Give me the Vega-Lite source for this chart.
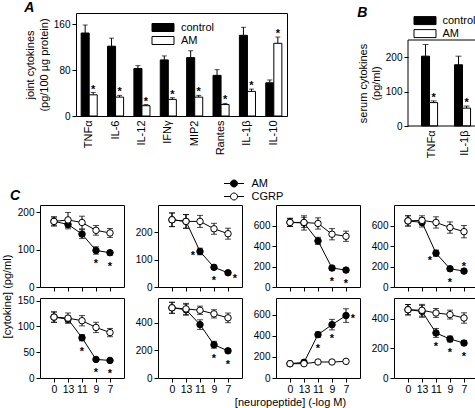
{
  "$schema": "https://vega.github.io/schema/vega-lite/v6.json",
  "padding": 0,
  "background": "white",
  "config": {
    "font": "Liberation Sans",
    "view": {"stroke": "black", "strokeWidth": 1},
    "axis": {"domain": false, "grid": false, "labelColor": "black", "titleColor": "black", "tickColor": "black", "labelFontSize": 10, "titleFontSize": 11, "titleFontWeight": "normal", "tickSize": 4, "labelPadding": 2, "titlePadding": 4},
    "legend": {"labelFontSize": 11, "labelColor": "black", "padding": 0},
    "title": {"fontSize": 14, "fontWeight": "bold", "fontStyle": "italic", "anchor": "start", "frame": "bounds", "color": "black", "offset": 0}
  },
  "datasets": {
    "A": [
      {"cytokine": "TNFα", "group": "control", "value": 145, "top": 159, "sig": false},
      {"cytokine": "TNFα", "group": "AM", "value": 37, "top": 41, "sig": true},
      {"cytokine": "IL-6", "group": "control", "value": 122, "top": 136, "sig": false},
      {"cytokine": "IL-6", "group": "AM", "value": 33, "top": 36, "sig": true},
      {"cytokine": "IL-12", "group": "control", "value": 83, "top": 88, "sig": false},
      {"cytokine": "IL-12", "group": "AM", "value": 18, "top": 20, "sig": true},
      {"cytokine": "IFNγ", "group": "control", "value": 98, "top": 105, "sig": false},
      {"cytokine": "IFNγ", "group": "AM", "value": 29, "top": 32, "sig": true},
      {"cytokine": "MIP2", "group": "control", "value": 102, "top": 114, "sig": false},
      {"cytokine": "MIP2", "group": "AM", "value": 33, "top": 36, "sig": true},
      {"cytokine": "Rantes", "group": "control", "value": 71, "top": 81, "sig": false},
      {"cytokine": "Rantes", "group": "AM", "value": 20, "top": 22, "sig": true},
      {"cytokine": "IL-1β", "group": "control", "value": 141, "top": 155, "sig": false},
      {"cytokine": "IL-1β", "group": "AM", "value": 43, "top": 47, "sig": true},
      {"cytokine": "IL-10", "group": "control", "value": 58, "top": 63, "sig": false},
      {"cytokine": "IL-10", "group": "AM", "value": 127, "top": 138, "sig": true}
    ],
    "B": [
      {"cytokine": "TNFα", "group": "control", "value": 203, "top": 237, "sig": false},
      {"cytokine": "TNFα", "group": "AM", "value": 68, "top": 73, "sig": true},
      {"cytokine": "IL-1β", "group": "control", "value": 178, "top": 203, "sig": false},
      {"cytokine": "IL-1β", "group": "AM", "value": 52, "top": 58, "sig": true}
    ],
    "C": [
      {"panel": "IL-1β", "dose": "0", "series": "AM", "value": 176, "err": 12, "star": ""},
      {"panel": "IL-1β", "dose": "13", "series": "AM", "value": 168, "err": 12, "star": ""},
      {"panel": "IL-1β", "dose": "11", "series": "AM", "value": 142, "err": 12, "star": ""},
      {"panel": "IL-1β", "dose": "9", "series": "AM", "value": 98, "err": 10, "star": "b"},
      {"panel": "IL-1β", "dose": "7", "series": "AM", "value": 92, "err": 6, "star": "b"},
      {"panel": "IL-1β", "dose": "0", "series": "CGRP", "value": 176, "err": 12, "star": ""},
      {"panel": "IL-1β", "dose": "13", "series": "CGRP", "value": 180, "err": 20, "star": ""},
      {"panel": "IL-1β", "dose": "11", "series": "CGRP", "value": 173, "err": 17, "star": ""},
      {"panel": "IL-1β", "dose": "9", "series": "CGRP", "value": 152, "err": 13, "star": ""},
      {"panel": "IL-1β", "dose": "7", "series": "CGRP", "value": 145, "err": 12, "star": ""},
      {"panel": "MIP-2", "dose": "0", "series": "AM", "value": 246, "err": 25, "star": ""},
      {"panel": "MIP-2", "dose": "13", "series": "AM", "value": 240, "err": 25, "star": ""},
      {"panel": "MIP-2", "dose": "11", "series": "AM", "value": 130, "err": 12, "star": "l"},
      {"panel": "MIP-2", "dose": "9", "series": "AM", "value": 72, "err": 6, "star": "b"},
      {"panel": "MIP-2", "dose": "7", "series": "AM", "value": 52, "err": 5, "star": "r"},
      {"panel": "MIP-2", "dose": "0", "series": "CGRP", "value": 246, "err": 25, "star": ""},
      {"panel": "MIP-2", "dose": "13", "series": "CGRP", "value": 240, "err": 25, "star": ""},
      {"panel": "MIP-2", "dose": "11", "series": "CGRP", "value": 240, "err": 22, "star": ""},
      {"panel": "MIP-2", "dose": "9", "series": "CGRP", "value": 213, "err": 20, "star": ""},
      {"panel": "MIP-2", "dose": "7", "series": "CGRP", "value": 195, "err": 20, "star": ""},
      {"panel": "TNFα", "dose": "0", "series": "AM", "value": 630, "err": 40, "star": ""},
      {"panel": "TNFα", "dose": "13", "series": "AM", "value": 625, "err": 70, "star": ""},
      {"panel": "TNFα", "dose": "11", "series": "AM", "value": 450, "err": 35, "star": ""},
      {"panel": "TNFα", "dose": "9", "series": "AM", "value": 185, "err": 20, "star": "b"},
      {"panel": "TNFα", "dose": "7", "series": "AM", "value": 165, "err": 15, "star": "b"},
      {"panel": "TNFα", "dose": "0", "series": "CGRP", "value": 630, "err": 40, "star": ""},
      {"panel": "TNFα", "dose": "13", "series": "CGRP", "value": 630, "err": 50, "star": ""},
      {"panel": "TNFα", "dose": "11", "series": "CGRP", "value": 620, "err": 55, "star": ""},
      {"panel": "TNFα", "dose": "9", "series": "CGRP", "value": 515, "err": 55, "star": ""},
      {"panel": "TNFα", "dose": "7", "series": "CGRP", "value": 495, "err": 50, "star": ""},
      {"panel": "IFNγ", "dose": "0", "series": "AM", "value": 645, "err": 50, "star": ""},
      {"panel": "IFNγ", "dose": "13", "series": "AM", "value": 630, "err": 45, "star": ""},
      {"panel": "IFNγ", "dose": "11", "series": "AM", "value": 330, "err": 30, "star": "bl"},
      {"panel": "IFNγ", "dose": "9", "series": "AM", "value": 178, "err": 20, "star": "b"},
      {"panel": "IFNγ", "dose": "7", "series": "AM", "value": 155, "err": 15, "star": "a"},
      {"panel": "IFNγ", "dose": "0", "series": "CGRP", "value": 645, "err": 50, "star": ""},
      {"panel": "IFNγ", "dose": "13", "series": "CGRP", "value": 650, "err": 45, "star": ""},
      {"panel": "IFNγ", "dose": "11", "series": "CGRP", "value": 630, "err": 55, "star": ""},
      {"panel": "IFNγ", "dose": "9", "series": "CGRP", "value": 580, "err": 55, "star": ""},
      {"panel": "IFNγ", "dose": "7", "series": "CGRP", "value": 540, "err": 60, "star": ""},
      {"panel": "Rantes", "dose": "0", "series": "AM", "value": 118, "err": 10, "star": ""},
      {"panel": "Rantes", "dose": "13", "series": "AM", "value": 114, "err": 6, "star": ""},
      {"panel": "Rantes", "dose": "11", "series": "AM", "value": 78, "err": 6, "star": "b"},
      {"panel": "Rantes", "dose": "9", "series": "AM", "value": 36, "err": 3, "star": "b"},
      {"panel": "Rantes", "dose": "7", "series": "AM", "value": 34, "err": 3, "star": "b"},
      {"panel": "Rantes", "dose": "0", "series": "CGRP", "value": 118, "err": 10, "star": ""},
      {"panel": "Rantes", "dose": "13", "series": "CGRP", "value": 116, "err": 10, "star": ""},
      {"panel": "Rantes", "dose": "11", "series": "CGRP", "value": 111, "err": 10, "star": ""},
      {"panel": "Rantes", "dose": "9", "series": "CGRP", "value": 98, "err": 10, "star": ""},
      {"panel": "Rantes", "dose": "7", "series": "CGRP", "value": 88, "err": 8, "star": ""},
      {"panel": "IL-12", "dose": "0", "series": "AM", "value": 509, "err": 40, "star": ""},
      {"panel": "IL-12", "dose": "13", "series": "AM", "value": 495, "err": 40, "star": ""},
      {"panel": "IL-12", "dose": "11", "series": "AM", "value": 387, "err": 35, "star": ""},
      {"panel": "IL-12", "dose": "9", "series": "AM", "value": 241, "err": 25, "star": "b"},
      {"panel": "IL-12", "dose": "7", "series": "AM", "value": 197, "err": 15, "star": "b"},
      {"panel": "IL-12", "dose": "0", "series": "CGRP", "value": 509, "err": 40, "star": ""},
      {"panel": "IL-12", "dose": "13", "series": "CGRP", "value": 501, "err": 40, "star": ""},
      {"panel": "IL-12", "dose": "11", "series": "CGRP", "value": 491, "err": 30, "star": ""},
      {"panel": "IL-12", "dose": "9", "series": "CGRP", "value": 465, "err": 30, "star": ""},
      {"panel": "IL-12", "dose": "7", "series": "CGRP", "value": 436, "err": 35, "star": ""},
      {"panel": "IL-10", "dose": "0", "series": "AM", "value": 136, "err": 10, "star": ""},
      {"panel": "IL-10", "dose": "13", "series": "AM", "value": 149, "err": 12, "star": ""},
      {"panel": "IL-10", "dose": "11", "series": "AM", "value": 412, "err": 25, "star": "b"},
      {"panel": "IL-10", "dose": "9", "series": "AM", "value": 507, "err": 50, "star": "b"},
      {"panel": "IL-10", "dose": "7", "series": "AM", "value": 593, "err": 65, "star": "r"},
      {"panel": "IL-10", "dose": "0", "series": "CGRP", "value": 136, "err": 10, "star": ""},
      {"panel": "IL-10", "dose": "13", "series": "CGRP", "value": 136, "err": 10, "star": ""},
      {"panel": "IL-10", "dose": "11", "series": "CGRP", "value": 152, "err": 10, "star": ""},
      {"panel": "IL-10", "dose": "9", "series": "CGRP", "value": 152, "err": 10, "star": ""},
      {"panel": "IL-10", "dose": "7", "series": "CGRP", "value": 158, "err": 10, "star": ""},
      {"panel": "IL-2", "dose": "0", "series": "AM", "value": 461, "err": 35, "star": ""},
      {"panel": "IL-2", "dose": "13", "series": "AM", "value": 450, "err": 40, "star": ""},
      {"panel": "IL-2", "dose": "11", "series": "AM", "value": 304, "err": 30, "star": "b"},
      {"panel": "IL-2", "dose": "9", "series": "AM", "value": 263, "err": 20, "star": "b"},
      {"panel": "IL-2", "dose": "7", "series": "AM", "value": 236, "err": 15, "star": "b"},
      {"panel": "IL-2", "dose": "0", "series": "CGRP", "value": 461, "err": 35, "star": ""},
      {"panel": "IL-2", "dose": "13", "series": "CGRP", "value": 457, "err": 40, "star": ""},
      {"panel": "IL-2", "dose": "11", "series": "CGRP", "value": 439, "err": 30, "star": ""},
      {"panel": "IL-2", "dose": "9", "series": "CGRP", "value": 428, "err": 30, "star": ""},
      {"panel": "IL-2", "dose": "7", "series": "CGRP", "value": 405, "err": 35, "star": ""}
    ]
  },
  "spacing": 18,
  "resolve": {"scale": {"fill": "independent"}, "legend": {"fill": "independent"}},
  "vconcat": [
    {
      "spacing": -18,
      "resolve": {"scale": {"fill": "independent"}, "legend": {"fill": "independent"}},
      "hconcat": [
        {
          "width": 1, "height": 1,
          "view": {"stroke": null},
          "data": {"values": []},
          "mark": "point"
        },
        {
          "spacing": 69,
          "resolve": {"scale": {"fill": "independent"}, "legend": {"fill": "independent"}},
          "hconcat": [
            {
              "width": 211, "height": 103,
              "title": {"text": "A", "dy": 6},
              "data": {"name": "A"},
              "encoding": {
                "x": {"field": "cytokine", "type": "nominal", "sort": null, "scale": {"paddingInner": 0.39, "paddingOuter": 0.195}, "axis": {"title": null, "labelAngle": -90, "ticks": false, "labelFontSize": 11, "labelPadding": 4}},
                "xOffset": {"field": "group", "type": "nominal", "sort": ["control", "AM"]}
              },
              "layer": [
                {
                  "mark": {"type": "bar", "stroke": "black", "strokeWidth": 1},
                  "encoding": {
                    "y": {"field": "value", "type": "quantitative", "scale": {"domain": [0, 180], "nice": false}, "axis": {"values": [0, 40, 80, 120, 160], "title": ["joint cytokines", "(pg/100 µg protein)"], "titleLineHeight": 14}},
                    "fill": {"field": "group", "type": "nominal", "scale": {"domain": ["control", "AM"], "range": ["black", "white"]},
                      "legend": {"orient": "none", "legendX": 80, "legendY": 7.5, "title": null, "symbolType": "M-1.69,-0.615H1.69V0.615H-1.69Z", "symbolSize": 169, "symbolStrokeColor": "black", "symbolStrokeWidth": 1, "rowPadding": 0, "labelOffset": 11, "labelFontSize": 11}}
                  }
                },
                {
                  "mark": {"type": "rule", "color": "black", "strokeWidth": 1},
                  "encoding": {"y": {"field": "value", "type": "quantitative"}, "y2": {"field": "top"}}
                },
                {
                  "mark": {"type": "tick", "color": "black", "thickness": 1, "size": 5},
                  "encoding": {"y": {"field": "top", "type": "quantitative"}}
                },
                {
                  "transform": [{"filter": "datum.sig"}],
                  "mark": {"type": "text", "text": "*", "fontSize": 11, "fontWeight": "bold", "baseline": "alphabetic", "dy": 0, "color": "black"},
                  "encoding": {"y": {"field": "top", "type": "quantitative"}}
                }
              ]
            },
            {
              "width": 74, "height": 113,
              "view": {"stroke": null},
              "title": {"text": "B", "dy": 11},
              "data": {"name": "B"},
              "layer": [
                {
                  "mark": {"type": "bar", "stroke": "black", "strokeWidth": 1},
                  "encoding": {
                    "x": {"field": "cytokine", "type": "nominal", "sort": null, "scale": {"paddingInner": 0.376, "paddingOuter": 0.31, "align": 0.66}, "axis": {"title": null, "labelAngle": -90, "ticks": false, "labelFontSize": 11, "labelPadding": 4}},
                    "xOffset": {"field": "group", "type": "nominal", "sort": ["control", "AM"]},
                    "y": {"field": "value", "type": "quantitative", "scale": {"domain": [0, 250], "nice": false, "range": [113, 27]}, "axis": {"values": [0, 100, 200], "title": ["serum cytokines", "(pg/ml)"], "titleLineHeight": 13}},
                    "fill": {"field": "group", "type": "nominal", "scale": {"domain": ["control", "AM"], "range": ["black", "white"]},
                      "legend": {"orient": "none", "legendX": 10, "legendY": 0.6, "title": null, "symbolType": "M-1.69,-0.615H1.69V0.615H-1.69Z", "symbolSize": 169, "symbolStrokeColor": "black", "symbolStrokeWidth": 1, "rowPadding": 0, "labelOffset": 10.5, "labelFontSize": 11}}
                  }
                },
                {
                  "mark": {"type": "rule", "color": "black", "strokeWidth": 1},
                  "encoding": {
                    "x": {"field": "cytokine", "type": "nominal", "sort": null},
                    "xOffset": {"field": "group", "type": "nominal", "sort": ["control", "AM"]},
                    "y": {"field": "value", "type": "quantitative"}, "y2": {"field": "top"}}
                },
                {
                  "mark": {"type": "tick", "color": "black", "thickness": 1, "size": 6},
                  "encoding": {
                    "x": {"field": "cytokine", "type": "nominal", "sort": null},
                    "xOffset": {"field": "group", "type": "nominal", "sort": ["control", "AM"]},
                    "y": {"field": "top", "type": "quantitative"}}
                },
                {
                  "transform": [{"filter": "datum.sig"}],
                  "mark": {"type": "text", "text": "*", "fontSize": 11, "fontWeight": "bold", "baseline": "alphabetic", "dy": 0, "color": "black"},
                  "encoding": {
                    "x": {"field": "cytokine", "type": "nominal", "sort": null},
                    "xOffset": {"field": "group", "type": "nominal", "sort": ["control", "AM"]},
                    "y": {"field": "top", "type": "quantitative"}}
                },
                {
                  "data": {"values": [{"frame": "plot"}]},
                  "mark": {"type": "rect", "fill": "white", "fillOpacity": 0, "stroke": "black", "strokeWidth": 1},
                  "encoding": {"y": {"datum": 0}, "y2": {"datum": 250}}
                }
              ]
            }
          ]
        }
      ]
    },
    {
      "columns": 4,
      "bounds": "flush",
      "spacing": {"row": 11, "column": 34},
      "resolve": {"scale": {"fill": "independent"}, "legend": {"fill": "independent"}},
      "concat": [
        {
          "width": 84, "height": 82,
          "title": {"text": "C", "frame": "group", "dx": -30, "dy": 2},
          "data": {"name": "C"},
          "transform": [{"filter": "datum.panel === 'IL-1β'"}],
          "encoding": {
            "x": {"field": "dose", "type": "ordinal", "sort": ["0", "13", "11", "9", "7"], "scale": {"type": "point", "padding": 1}, "axis": {"title": null, "labels": false}},
            "y": {"field": "value", "type": "quantitative", "scale": {"domain": [0, 220], "nice": false}, "axis": {"title": null, "values": [0, 100, 200]}}
          },
          "layer": [
            {"mark": {"type": "line", "color": "black", "strokeWidth": 1}, "encoding": {"detail": {"field": "series"}}},
            {"mark": {"type": "errorbar", "ticks": {"size": 6}, "color": "black"}, "encoding": {"yError": {"field": "err"}, "detail": {"field": "series"}}},
            {"mark": {"type": "point", "shape": "circle", "filled": true, "size": 42, "stroke": "black", "strokeWidth": 1, "opacity": 1}, "encoding": {"fill": {"field": "series", "type": "nominal", "scale": {"domain": ["AM", "CGRP"], "range": ["black", "white"]}, "legend": null}}},
            {"transform": [{"filter": "datum.star === 'b'"}], "mark": {"type": "text", "text": "*", "dy": 17, "fontSize": 11, "fontWeight": "bold", "color": "black", "baseline": "alphabetic"}},
            {"data": {"values": [{"label": "IL-1β"}]}, "mark": {"type": "text", "align": "left", "baseline": "middle", "fontSize": 11, "dx": -5, "color": "black"}, "encoding": {"x": {"datum": "0"}, "y": {"datum": 46}, "text": {"field": "label"}}}
          ]
        },
        {
          "width": 84, "height": 82,
          "data": {"name": "C"},
          "transform": [{"filter": "datum.panel === 'MIP-2'"}],
          "encoding": {
            "x": {"field": "dose", "type": "ordinal", "sort": ["0", "13", "11", "9", "7"], "scale": {"type": "point", "padding": 1}, "axis": {"title": null, "labels": false}},
            "y": {"field": "value", "type": "quantitative", "scale": {"domain": [0, 300], "nice": false}, "axis": {"title": null, "values": [0, 100, 200]}}
          },
          "layer": [
            {"mark": {"type": "line", "color": "black", "strokeWidth": 1}, "encoding": {"detail": {"field": "series"}}},
            {"mark": {"type": "errorbar", "ticks": {"size": 6}, "color": "black"}, "encoding": {"yError": {"field": "err"}, "detail": {"field": "series"}}},
            {"mark": {"type": "point", "shape": "circle", "filled": true, "size": 42, "stroke": "black", "strokeWidth": 1, "opacity": 1}, "encoding": {"fill": {"field": "series", "type": "nominal", "scale": {"domain": ["AM", "CGRP"], "range": ["black", "white"]},
              "legend": {"orient": "none", "legendX": 69, "legendY": -28.5, "title": null, "symbolType": "M-1.63,0H-0.57A0.57,0.57,0,1,1,0.57,0H1.63M0.57,0A0.57,0.57,0,1,1,-0.57,0", "symbolSize": 151, "symbolStrokeColor": "black", "symbolStrokeWidth": 1, "rowPadding": 0, "labelOffset": 10.5, "labelFontSize": 11}}}},
            {"transform": [{"filter": "datum.star === 'b'"}], "mark": {"type": "text", "text": "*", "dy": 17, "fontSize": 11, "fontWeight": "bold", "color": "black", "baseline": "alphabetic"}},
            {"transform": [{"filter": "datum.star === 'l'"}], "mark": {"type": "text", "text": "*", "dx": -7, "dy": 8, "fontSize": 11, "fontWeight": "bold", "color": "black", "baseline": "alphabetic"}},
            {"transform": [{"filter": "datum.star === 'r'"}], "mark": {"type": "text", "text": "*", "dx": 7, "dy": 9, "fontSize": 11, "fontWeight": "bold", "color": "black", "baseline": "alphabetic"}},
            {"data": {"values": [{"label": "MIP-2"}]}, "mark": {"type": "text", "align": "left", "baseline": "middle", "fontSize": 11, "dx": -7, "color": "black"}, "encoding": {"x": {"datum": "0"}, "y": {"datum": 64}, "text": {"field": "label"}}}
          ]
        },
        {
          "width": 84, "height": 82,
          "data": {"name": "C"},
          "transform": [{"filter": "datum.panel === 'TNFα'"}],
          "encoding": {
            "x": {"field": "dose", "type": "ordinal", "sort": ["0", "13", "11", "9", "7"], "scale": {"type": "point", "padding": 1}, "axis": {"title": null, "labels": false}},
            "y": {"field": "value", "type": "quantitative", "scale": {"domain": [0, 800], "nice": false}, "axis": {"title": null, "values": [0, 200, 400, 600]}}
          },
          "layer": [
            {"mark": {"type": "line", "color": "black", "strokeWidth": 1}, "encoding": {"detail": {"field": "series"}}},
            {"mark": {"type": "errorbar", "ticks": {"size": 6}, "color": "black"}, "encoding": {"yError": {"field": "err"}, "detail": {"field": "series"}}},
            {"mark": {"type": "point", "shape": "circle", "filled": true, "size": 42, "stroke": "black", "strokeWidth": 1, "opacity": 1}, "encoding": {"fill": {"field": "series", "type": "nominal", "scale": {"domain": ["AM", "CGRP"], "range": ["black", "white"]}, "legend": null}}},
            {"transform": [{"filter": "datum.star === 'b'"}], "mark": {"type": "text", "text": "*", "dy": 17, "fontSize": 11, "fontWeight": "bold", "color": "black", "baseline": "alphabetic"}},
            {"data": {"values": [{"label": "TNFα"}]}, "mark": {"type": "text", "align": "left", "baseline": "middle", "fontSize": 11, "dx": -2, "color": "black"}, "encoding": {"x": {"datum": "0"}, "y": {"datum": 154}, "text": {"field": "label"}}}
          ]
        },
        {
          "width": 84, "height": 82,
          "data": {"name": "C"},
          "transform": [{"filter": "datum.panel === 'IFNγ'"}],
          "encoding": {
            "x": {"field": "dose", "type": "ordinal", "sort": ["0", "13", "11", "9", "7"], "scale": {"type": "point", "padding": 1}, "axis": {"title": null, "labels": false}},
            "y": {"field": "value", "type": "quantitative", "scale": {"domain": [0, 800], "nice": false}, "axis": {"title": null, "values": [0, 200, 400, 600]}}
          },
          "layer": [
            {"mark": {"type": "line", "color": "black", "strokeWidth": 1}, "encoding": {"detail": {"field": "series"}}},
            {"mark": {"type": "errorbar", "ticks": {"size": 6}, "color": "black"}, "encoding": {"yError": {"field": "err"}, "detail": {"field": "series"}}},
            {"mark": {"type": "point", "shape": "circle", "filled": true, "size": 42, "stroke": "black", "strokeWidth": 1, "opacity": 1}, "encoding": {"fill": {"field": "series", "type": "nominal", "scale": {"domain": ["AM", "CGRP"], "range": ["black", "white"]}, "legend": null}}},
            {"transform": [{"filter": "datum.star === 'b'"}], "mark": {"type": "text", "text": "*", "dy": 17, "fontSize": 11, "fontWeight": "bold", "color": "black", "baseline": "alphabetic"}},
            {"transform": [{"filter": "datum.star === 'bl'"}], "mark": {"type": "text", "text": "*", "dx": -6, "dy": 11, "fontSize": 11, "fontWeight": "bold", "color": "black", "baseline": "alphabetic"}},
            {"transform": [{"filter": "datum.star === 'a'"}], "mark": {"type": "text", "text": "*", "dy": -1, "fontSize": 11, "fontWeight": "bold", "color": "black", "baseline": "alphabetic"}},
            {"data": {"values": [{"label": "IFNγ"}]}, "mark": {"type": "text", "align": "left", "baseline": "middle", "fontSize": 11, "dx": -1, "color": "black"}, "encoding": {"x": {"datum": "0"}, "y": {"datum": 144}, "text": {"field": "label"}}}
          ]
        },
        {
          "width": 84, "height": 80,
          "data": {"name": "C"},
          "transform": [{"filter": "datum.panel === 'Rantes'"}],
          "encoding": {
            "x": {"field": "dose", "type": "ordinal", "sort": ["0", "13", "11", "9", "7"], "scale": {"type": "point", "padding": 1}, "axis": {"title": null, "labelAngle": 0, "labelFontSize": 10.5}},
            "y": {"field": "value", "type": "quantitative", "scale": {"domain": [0, 155], "nice": false}, "axis": {"values": [0, 50, 100, 150], "title": "[cytokine] (pg/ml)", "titleX": -33, "titleY": -2, "titleBaseline": "middle", "titleAlign": "center", "titleAngle": -90}}
          },
          "layer": [
            {"mark": {"type": "line", "color": "black", "strokeWidth": 1}, "encoding": {"detail": {"field": "series"}}},
            {"mark": {"type": "errorbar", "ticks": {"size": 6}, "color": "black"}, "encoding": {"yError": {"field": "err"}, "detail": {"field": "series"}}},
            {"mark": {"type": "point", "shape": "circle", "filled": true, "size": 42, "stroke": "black", "strokeWidth": 1, "opacity": 1}, "encoding": {"fill": {"field": "series", "type": "nominal", "scale": {"domain": ["AM", "CGRP"], "range": ["black", "white"]}, "legend": null}}},
            {"transform": [{"filter": "datum.star === 'b'"}], "mark": {"type": "text", "text": "*", "dy": 17, "fontSize": 11, "fontWeight": "bold", "color": "black", "baseline": "alphabetic"}},
            {"data": {"values": [{"label": "Rantes"}]}, "mark": {"type": "text", "align": "left", "baseline": "middle", "fontSize": 11, "dx": -6, "color": "black"}, "encoding": {"x": {"datum": "0"}, "y": {"datum": 32}, "text": {"field": "label"}}}
          ]
        },
        {
          "width": 84, "height": 80,
          "data": {"name": "C"},
          "transform": [{"filter": "datum.panel === 'IL-12'"}],
          "encoding": {
            "x": {"field": "dose", "type": "ordinal", "sort": ["0", "13", "11", "9", "7"], "scale": {"type": "point", "padding": 1}, "axis": {"title": null, "labelAngle": 0, "labelFontSize": 10.5}},
            "y": {"field": "value", "type": "quantitative", "scale": {"domain": [0, 580], "nice": false}, "axis": {"title": null, "values": [0, 200, 400]}}
          },
          "layer": [
            {"mark": {"type": "line", "color": "black", "strokeWidth": 1}, "encoding": {"detail": {"field": "series"}}},
            {"mark": {"type": "errorbar", "ticks": {"size": 6}, "color": "black"}, "encoding": {"yError": {"field": "err"}, "detail": {"field": "series"}}},
            {"mark": {"type": "point", "shape": "circle", "filled": true, "size": 42, "stroke": "black", "strokeWidth": 1, "opacity": 1}, "encoding": {"fill": {"field": "series", "type": "nominal", "scale": {"domain": ["AM", "CGRP"], "range": ["black", "white"]}, "legend": null}}},
            {"transform": [{"filter": "datum.star === 'b'"}], "mark": {"type": "text", "text": "*", "dy": 17, "fontSize": 11, "fontWeight": "bold", "color": "black", "baseline": "alphabetic"}},
            {"data": {"values": [{"label": "IL-12"}]}, "mark": {"type": "text", "align": "left", "baseline": "middle", "fontSize": 11, "dx": -7, "color": "black"}, "encoding": {"x": {"datum": "0"}, "y": {"datum": 107}, "text": {"field": "label"}}}
          ]
        },
        {
          "width": 84, "height": 80,
          "data": {"name": "C"},
          "transform": [{"filter": "datum.panel === 'IL-10'"}],
          "encoding": {
            "x": {"field": "dose", "type": "ordinal", "sort": ["0", "13", "11", "9", "7"], "scale": {"type": "point", "padding": 1}, "axis": {"title": "[neuropeptide] (-log M)", "labelAngle": 0, "labelFontSize": 10.5, "titleX": 14, "titleY": 24, "titleBaseline": "middle", "titleAlign": "center"}},
            "y": {"field": "value", "type": "quantitative", "scale": {"domain": [0, 760], "nice": false}, "axis": {"title": null, "values": [0, 200, 400, 600]}}
          },
          "layer": [
            {"mark": {"type": "line", "color": "black", "strokeWidth": 1}, "encoding": {"detail": {"field": "series"}}},
            {"mark": {"type": "errorbar", "ticks": {"size": 6}, "color": "black"}, "encoding": {"yError": {"field": "err"}, "detail": {"field": "series"}}},
            {"mark": {"type": "point", "shape": "circle", "filled": true, "size": 42, "stroke": "black", "strokeWidth": 1, "opacity": 1}, "encoding": {"fill": {"field": "series", "type": "nominal", "scale": {"domain": ["AM", "CGRP"], "range": ["black", "white"]}, "legend": null}}},
            {"transform": [{"filter": "datum.star === 'b'"}], "mark": {"type": "text", "text": "*", "dy": 17, "fontSize": 11, "fontWeight": "bold", "color": "black", "baseline": "alphabetic"}},
            {"transform": [{"filter": "datum.star === 'r'"}], "mark": {"type": "text", "text": "*", "dx": 7, "dy": 6, "fontSize": 11, "fontWeight": "bold", "color": "black", "baseline": "alphabetic"}},
            {"data": {"values": [{"label": "IL-10"}]}, "mark": {"type": "text", "align": "left", "baseline": "middle", "fontSize": 11, "dx": -1, "color": "black"}, "encoding": {"x": {"datum": "0"}, "y": {"datum": 616}, "text": {"field": "label"}}}
          ]
        },
        {
          "width": 84, "height": 80,
          "data": {"name": "C"},
          "transform": [{"filter": "datum.panel === 'IL-2'"}],
          "encoding": {
            "x": {"field": "dose", "type": "ordinal", "sort": ["0", "13", "11", "9", "7"], "scale": {"type": "point", "padding": 1}, "axis": {"title": null, "labelAngle": 0, "labelFontSize": 10.5}},
            "y": {"field": "value", "type": "quantitative", "scale": {"domain": [0, 540], "nice": false}, "axis": {"title": null, "values": [0, 200, 400]}}
          },
          "layer": [
            {"mark": {"type": "line", "color": "black", "strokeWidth": 1}, "encoding": {"detail": {"field": "series"}}},
            {"mark": {"type": "errorbar", "ticks": {"size": 6}, "color": "black"}, "encoding": {"yError": {"field": "err"}, "detail": {"field": "series"}}},
            {"mark": {"type": "point", "shape": "circle", "filled": true, "size": 42, "stroke": "black", "strokeWidth": 1, "opacity": 1}, "encoding": {"fill": {"field": "series", "type": "nominal", "scale": {"domain": ["AM", "CGRP"], "range": ["black", "white"]}, "legend": null}}},
            {"transform": [{"filter": "datum.star === 'b'"}], "mark": {"type": "text", "text": "*", "dy": 17, "fontSize": 11, "fontWeight": "bold", "color": "black", "baseline": "alphabetic"}},
            {"data": {"values": [{"label": "IL-2"}]}, "mark": {"type": "text", "align": "left", "baseline": "middle", "fontSize": 11, "dx": -6, "color": "black"}, "encoding": {"x": {"datum": "0"}, "y": {"datum": 141}, "text": {"field": "label"}}}
          ]
        }
      ]
    }
  ]
}
